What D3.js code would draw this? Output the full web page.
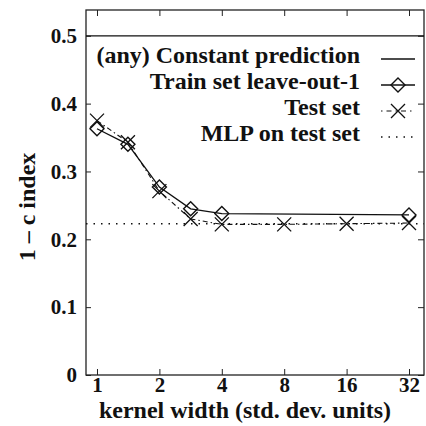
<!DOCTYPE html>
<html>
<head>
<meta charset="utf-8">
<script src="https://cdn.jsdelivr.net/npm/d3@7"></script>
<style>
  body { margin: 0; background: #fff; }
  text { font-family: "Liberation Serif", Tinos, "Times New Roman", Times, "DejaVu Serif", serif; font-weight: bold; fill: #111; }
</style>
</head>
<body>
<div id="chart"></div>
<script>
// chart data
var kernelWidths = [1, 1.41, 2, 2.83, 4, 8, 16, 32];
var testValues = [0.375, 0.343, 0.271, 0.230, 0.222, 0.222, 0.223, 0.224];
var trainWidths = [1, 1.41, 2, 2.83, 4, 32];
var trainValues = [0.363, 0.340, 0.277, 0.245, 0.238, 0.236];
var constantValue = 0.5;
var mlpValue = 0.223;
var xTicks = [1, 2, 4, 8, 16, 32];
var yTicks = [0, 0.1, 0.2, 0.3, 0.4, 0.5];
var legendLabels = ["(any) Constant prediction", "Train set leave-out-1", "Test set", "MLP on test set"];

var w = 426, h = 426;
var plotLeft = 86, plotRight = 424, plotTop = 10, plotBottom = 375;

var svg = d3.select("#chart").append("svg")
  .attr("width", w)
  .attr("height", h);

var x = d3.scaleLog().base(2)
  .domain([0.885, 37.8])
  .range([plotLeft, plotRight]);

var y = d3.scaleLinear()
  .domain([0, 0.538])
  .range([plotBottom, plotTop]);

var tickFont = "21px";
var labelFont = "24px";

// axes with inward ticks
var gLeft = svg.append("g")
  .attr("transform", "translate(" + plotLeft + ",0)")
  .call(d3.axisLeft(y).tickValues(yTicks).tickSizeInner(-5).tickSizeOuter(0).tickPadding(9)
    .tickFormat(function(d) { return d === 0 ? "0" : d.toFixed(1); }));

var gBottom = svg.append("g")
  .attr("transform", "translate(0," + plotBottom + ")")
  .call(d3.axisBottom(x).tickValues(xTicks).tickSizeInner(-6).tickSizeOuter(0).tickPadding(2)
    .tickFormat(function(d) { return d; }));

var gTop = svg.append("g")
  .attr("transform", "translate(0," + plotTop + ")")
  .call(d3.axisTop(x).tickValues(xTicks).tickSizeInner(-6).tickSizeOuter(0).tickFormat(""));

var gRight = svg.append("g")
  .attr("transform", "translate(" + plotRight + ",0)")
  .call(d3.axisRight(y).tickValues(yTicks).tickSizeInner(-6).tickSizeOuter(0).tickFormat(""));

[gLeft, gBottom, gTop, gRight].forEach(function(g) {
  g.select(".domain").remove();
  g.attr("font-family", null);
  g.selectAll("line").attr("stroke", "#222").attr("stroke-width", 1);
  g.selectAll("text").style("font-size", tickFont).attr("fill", "#111");
});

// frame
svg.append("rect")
  .attr("x", plotLeft).attr("y", plotTop)
  .attr("width", plotRight - plotLeft).attr("height", plotBottom - plotTop)
  .attr("fill", "none").attr("stroke", "#222").attr("stroke-width", 1.3);

// constant prediction
svg.append("line")
  .attr("x1", plotLeft).attr("x2", plotRight)
  .attr("y1", y(constantValue)).attr("y2", y(constantValue))
  .attr("stroke", "#111").attr("stroke-width", 1.3);

// MLP
svg.append("line")
  .attr("x1", plotLeft).attr("x2", plotRight)
  .attr("y1", y(mlpValue)).attr("y2", y(mlpValue))
  .attr("stroke", "#111").attr("stroke-width", 1.4)
  .attr("stroke-dasharray", "1.5,6");

var line = d3.line()
  .x(function(d) { return x(d[0]); })
  .y(function(d) { return y(d[1]); });

var trainData = trainWidths.map(function(k, i) { return [k, trainValues[i]]; });
var testData = kernelWidths.map(function(k, i) { return [k, testValues[i]]; });

// test set line (dash-dot)
svg.append("path")
  .datum(testData)
  .attr("d", line)
  .attr("fill", "none").attr("stroke", "#111").attr("stroke-width", 1.1)
  .attr("stroke-dasharray", "5,3,1.5,3");

// train line
svg.append("path")
  .datum(trainData)
  .attr("d", line)
  .attr("fill", "none").attr("stroke", "#111").attr("stroke-width", 1.3);

var diamond = "M0,-7L7,0L0,7L-7,0Z";
var cross = "M-7,-7L7,7M-7,7L7,-7";

svg.selectAll(".train")
  .data(trainData)
  .enter().append("path")
  .attr("class", "train")
  .attr("transform", function(d) { return "translate(" + x(d[0]) + "," + y(d[1]) + ")"; })
  .attr("d", diamond)
  .attr("fill", "none").attr("stroke", "#111").attr("stroke-width", 1.4);

svg.selectAll(".test")
  .data(testData)
  .enter().append("path")
  .attr("class", "test")
  .attr("transform", function(d) { return "translate(" + x(d[0]) + "," + y(d[1]) + ")"; })
  .attr("d", cross)
  .attr("fill", "none").attr("stroke", "#111").attr("stroke-width", 1.3);

// legend
var legendY = [62, 88, 114, 140];
var legend = svg.append("g");
legendLabels.forEach(function(label, i) {
  legend.append("text")
    .attr("x", 360).attr("y", legendY[i] + 1)
    .attr("text-anchor", "end")
    .style("font-size", labelFont)
    .text(label);
  var ly = legendY[i] - 3;
  var sample = legend.append("line")
    .attr("x1", 381).attr("x2", 415)
    .attr("y1", ly).attr("y2", ly)
    .attr("stroke", "#111").attr("fill", "none");
  if (i === 0) sample.attr("stroke-width", 1.3);
  if (i === 1) {
    sample.attr("stroke-width", 1.3);
    legend.append("path").attr("d", diamond)
      .attr("transform", "translate(398," + ly + ")")
      .attr("fill", "none").attr("stroke", "#111").attr("stroke-width", 1.4);
  }
  if (i === 2) {
    sample.attr("stroke-width", 1.1).attr("stroke-dasharray", "1.5,4,5,4");
    legend.append("path").attr("d", cross)
      .attr("transform", "translate(398," + ly + ")")
      .attr("fill", "none").attr("stroke", "#111").attr("stroke-width", 1.3);
  }
  if (i === 3) sample.attr("stroke-width", 1.4).attr("stroke-dasharray", "1.5,6");
});

// axis titles
svg.append("text")
  .attr("x", 245).attr("y", 418)
  .attr("text-anchor", "middle")
  .style("font-size", labelFont)
  .text("kernel width (std. dev. units)");

svg.append("text")
  .attr("transform", "translate(35,207) rotate(-90)")
  .attr("text-anchor", "middle")
  .style("font-size", labelFont)
  .text("1 – c index");
</script>
</body>
</html>
